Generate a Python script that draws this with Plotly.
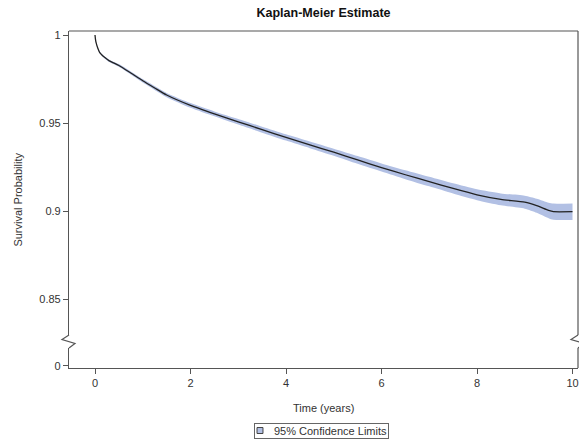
import plotly.graph_objects as go

# Data
time_years = [0, 0.01, 0.02, 0.03, 0.05, 0.07, 0.1, 0.15, 0.2, 0.3, 0.5, 0.75, 1.0, 1.25, 1.5,
              2.0, 2.5, 3.0, 3.5, 4.0, 4.5, 5.0, 5.5, 6.0, 6.5, 7.0, 7.5, 8.0, 8.5, 9.0,
              9.25, 9.5, 9.6, 10.0]
survival = [1.0, 0.9975, 0.996, 0.995, 0.9932, 0.9918, 0.9900, 0.9885, 0.9873, 0.9853, 0.9827,
            0.9784, 0.9740, 0.9699, 0.9659, 0.9600, 0.9552, 0.9507, 0.9462, 0.9418, 0.9376,
            0.9334, 0.9290, 0.9247, 0.9206, 0.9167, 0.9128, 0.9092, 0.9066, 0.9050, 0.9030,
            0.9003, 0.8996, 0.8996]
ci_halfwidth = [0.0, 0.0002, 0.0003, 0.0003, 0.0004, 0.0004, 0.0005, 0.0005, 0.0006, 0.0007,
                0.0008, 0.0009, 0.0010, 0.0011, 0.0012, 0.0013, 0.0014, 0.0016, 0.0017, 0.0018,
                0.0019, 0.0020, 0.0022, 0.0023, 0.0025, 0.0027, 0.0029, 0.0031, 0.0034, 0.0037,
                0.0040, 0.0044, 0.0046, 0.0047]
lower_ci = [round(s - h, 5) for s, h in zip(survival, ci_halfwidth)]
upper_ci = [round(s + h, 5) for s, h in zip(survival, ci_halfwidth)]

x_ticks = [0, 2, 4, 6, 8, 10]
y_ticks_upper = [0.85, 0.9, 0.95, 1]
y_ticklabels_upper = ["0.85", "0.9", "0.95", "1"]
y_ticks_lower = [0]
y_ticklabels_lower = ["0"]
legend_label = "95% Confidence Limits"

AX = "#555555"
TXT = "#333333"
FONT = "Liberation Sans, Arial, sans-serif"
band_color = "rgb(178,192,228)"

fig = go.Figure()
fig.add_trace(go.Scatter(x=time_years, y=upper_ci, mode="lines",
                         line=dict(width=0, color=band_color, shape="spline", smoothing=0.6),
                         showlegend=False, hoverinfo="skip", xaxis="x", yaxis="y"))
fig.add_trace(go.Scatter(x=time_years, y=lower_ci, mode="lines",
                         line=dict(width=0, color=band_color, shape="spline", smoothing=0.6),
                         fill="tonexty", fillcolor=band_color, name=legend_label,
                         showlegend=False, xaxis="x", yaxis="y"))
fig.add_trace(go.Scatter(x=time_years, y=survival, mode="lines",
                         line=dict(color="#222222", width=1.3, shape="spline", smoothing=0.6),
                         showlegend=False, name="Survival", xaxis="x", yaxis="y"))
# invisible trace to activate lower axis
fig.add_trace(go.Scatter(x=[None], y=[None], mode="lines", showlegend=False, xaxis="x", yaxis="y2"))

up_bot = 0.0979
lo_top = 0.0593

axis_common = dict(showgrid=False, zeroline=False, showline=True, linecolor=AX, linewidth=1.2,
                   ticks="outside", ticklen=5, tickcolor=AX, tickwidth=1,
                   tickfont=dict(family=FONT, size=11, color=TXT))

fig.update_layout(
    width=579, height=441,
    margin=dict(l=69, r=1, t=31, b=73, autoexpand=False),
    paper_bgcolor="white", plot_bgcolor="white",
    font=dict(family=FONT, color=TXT),
    title=dict(text="<b>Kaplan-Meier Estimate</b>", x=0.5, xref="paper", xanchor="center",
               y=1 - 13 / 441, yref="container", yanchor="middle",
               font=dict(family=FONT, size=12.5, color="#111111")),
    xaxis=dict(range=[-0.5445, 10.115], tickvals=x_ticks, anchor="y2", **axis_common),
    yaxis=dict(domain=[up_bot, 1], range=[0.82955, 1.00227], tickvals=y_ticks_upper,
               ticktext=y_ticklabels_upper, anchor="x", **axis_common),
    yaxis2=dict(domain=[0, lo_top], range=[-0.00114, 0.01023], tickvals=y_ticks_lower,
                ticktext=y_ticklabels_lower, anchor="x", **axis_common),
    showlegend=False,
)

fig.add_annotation(text="Survival Probability", x=-0.102, y=0.5, xref="paper", yref="paper",
                   textangle=-90, showarrow=False, xanchor="center", yanchor="middle",
                   font=dict(family=FONT, size=11, color=TXT))
fig.add_annotation(text="Time (years)", x=0.5, y=-0.1187, xref="paper", yref="paper",
                   showarrow=False, xanchor="center", yanchor="middle",
                   font=dict(family=FONT, size=11, color=TXT))

# legend box (drawn manually for compact SAS-like look)
fig.add_annotation(text=legend_label, x=0.4961, y=-0.1855, xref="paper", yref="paper",
                   showarrow=False, xanchor="center", yanchor="middle", width=131, align="right",
                   bordercolor="#666666", borderwidth=1, borderpad=1,
                   font=dict(family=FONT, size=11, color=TXT))
fig.add_shape(type="rect", xref="paper", yref="paper", x0=0.3694, x1=0.3811, y0=-0.1944, y1=-0.1766,
              fillcolor=band_color, line=dict(color="#444444", width=1), layer="above")

line_style = dict(color=AX, width=1.2)
# frame: top and right border
fig.add_shape(type="line", xref="paper", yref="paper", x0=0, x1=1, y0=1, y1=1, line=line_style)
fig.add_shape(type="line", xref="paper", yref="paper", x0=1, x1=1, y0=up_bot, y1=1, line=line_style)
fig.add_shape(type="line", xref="paper", yref="paper", x0=1, x1=1, y0=0, y1=lo_top, line=line_style)
# axis break zigzags
fig.add_shape(type="path", xref="paper", yref="paper",
              path=f"M 0 {up_bot} L -0.01375 0.0846 L 0.0118 0.0727 L 0 {lo_top}", line=line_style)
fig.add_shape(type="path", xref="paper", yref="paper",
              path=f"M 1 {up_bot} L 0.98625 0.0846 L 1.0118 0.0727 L 1 {lo_top}", line=line_style)

fig.write_html("out.html")
